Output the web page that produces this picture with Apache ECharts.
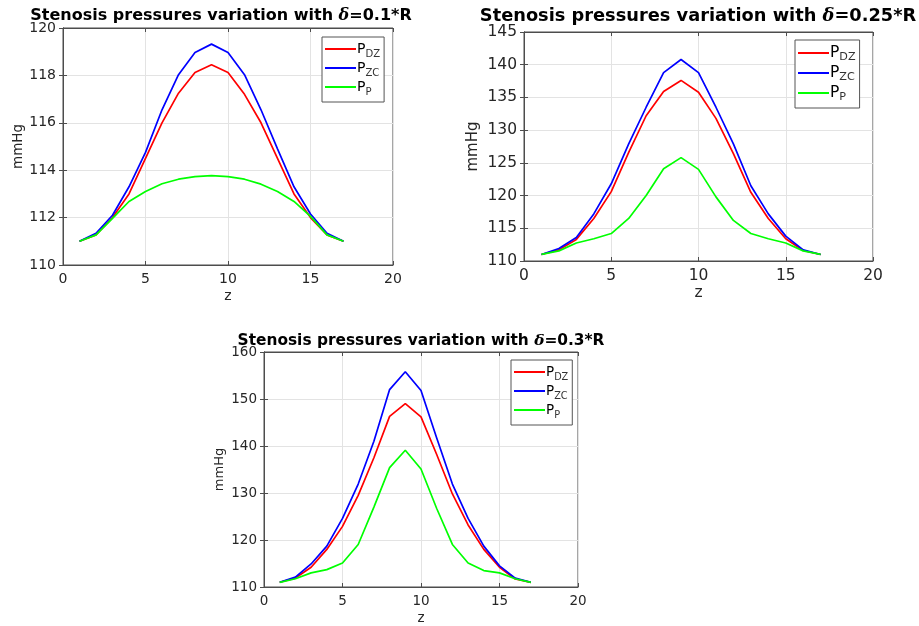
<!DOCTYPE html>
<html>
<head>
<meta charset="utf-8">
<script src="https://cdn.jsdelivr.net/npm/echarts@6/dist/echarts.min.js"></script>
<style>
  html, body { margin: 0; padding: 0; background: #fff; }
  #chart { width: 919px; height: 626px; }
</style>
</head>
<body>
<div id="chart"></div>
<script>
// axial positions z
const zVals = [1, 2, 3, 4, 5, 6, 7, 8, 9, 10, 11, 12, 13, 14, 15, 16, 17]

// delta = 0.1*R
const pdz01 = [111.0, 111.27, 112.0, 113.0, 114.5, 116.0, 117.25, 118.12, 118.45, 118.12, 117.2, 116.0, 114.5, 113.0, 112.0, 111.27, 111.0]
const pzc01 = [111.0, 111.34, 112.1, 113.3, 114.75, 116.55, 118.03, 118.97, 119.32, 118.97, 118.03, 116.55, 114.9, 113.3, 112.15, 111.34, 111.0]
const pp01 = [111.0, 111.27, 111.97, 112.68, 113.1, 113.43, 113.62, 113.73, 113.77, 113.73, 113.62, 113.41, 113.1, 112.68, 112.05, 111.27, 111.0]

// delta = 0.25*R
const pdz025 = [111.0, 111.7, 113.3, 116.5, 120.6, 126.6, 132.2, 135.9, 137.6, 135.8, 131.8, 126.4, 120.5, 116.5, 113.4, 111.6, 111.0]
const pzc025 = [111.0, 111.9, 113.6, 117.2, 121.8, 127.9, 133.5, 138.8, 140.8, 138.8, 133.5, 127.9, 121.5, 117.2, 113.8, 111.7, 111.0]
const pp025 = [111.0, 111.55, 112.75, 113.4, 114.2, 116.5, 120.0, 124.1, 125.8, 124.0, 119.8, 116.2, 114.2, 113.4, 112.75, 111.55, 111.0]

// delta = 0.3*R
const pdz03 = [111.0, 111.9, 114.2, 118.0, 122.9, 129.5, 137.5, 146.3, 149.0, 146.2, 138.2, 129.8, 123.2, 118.0, 114.2, 111.7, 111.0]
const pzc03 = [111.0, 112.1, 114.9, 118.7, 124.6, 131.9, 141.0, 152.0, 155.8, 151.8, 141.7, 131.9, 124.6, 118.7, 114.5, 111.9, 111.0]
const pp03 = [111.0, 111.75, 113.0, 113.7, 115.1, 119.05, 127.0, 135.4, 139.1, 135.1, 126.7, 119.05, 115.1, 113.5, 113.0, 111.75, 111.0]

const seriesNames = ['PDZ', 'PZC', 'PP']
const seriesColors = ['#ff0000', '#0000ff', '#00ff00']
const deltaLabels = ['0.1', '0.25', '0.3']
const yRanges = [[110, 120, 2], [110, 145, 5], [110, 160, 10]]
const panelData = [
  [pdz01, pzc01, pp01],
  [pdz025, pzc025, pp025],
  [pdz03, pzc03, pp03]
]

const FONT = 'DejaVu Sans'

// plot boxes, in pixels
const boxes = [
  { left: 63, top: 28, width: 330, height: 237, fs: 14, tfs: 16, titleX: 221, titleTop: 8, nameGapY: 38, legend: [322, 37] },
  { left: 524, top: 32, width: 349, height: 229, fs: 15.5, tfs: 17.8, titleX: 698, titleTop: 7, nameGapY: 43, legend: [795, 40] },
  { left: 264, top: 352, width: 314, height: 240, fs: 13.5, tfs: 15.4, titleX: 421, titleTop: 333, nameGapY: 38, legend: [511, 360] }
]

const pairs = (ys) => zVals.map((z, i) => [z, ys[i]])

const subLabel = {
  PDZ: '{p|P}{s|DZ}',
  PZC: '{p|P}{s|ZC}',
  PP: '{p|P}{s|P}'
}

const grid = []
const xAxis = []
const yAxis = []
const title = []
const legend = []
const series = []

boxes.forEach((b, k) => {
  grid.push({
    left: b.left,
    top: b.top,
    width: b.width,
    height: b.height,
    show: true,
    borderColor: '#4d4d4d',
    borderWidth: 1,
    backgroundColor: '#fff'
  })

  const axisLabel = { color: '#262626', fontSize: b.fs, fontFamily: FONT }
  const splitLine = { show: true, lineStyle: { color: '#e3e3e3', width: 1 } }
  const axisLine = { show: true, lineStyle: { color: '#4d4d4d' } }
  const axisTick = { show: true, inside: true, length: 4, lineStyle: { color: '#4d4d4d' } }

  xAxis.push({
    type: 'value',
    gridIndex: k,
    min: 0,
    max: 20,
    interval: 5,
    position: 'bottom',
    name: 'z',
    nameLocation: 'middle',
    nameGap: 24,
    nameTextStyle: { color: '#262626', fontSize: b.fs, fontFamily: FONT },
    axisLabel: Object.assign({ margin: 7 }, axisLabel),
    axisLine,
    axisTick,
    splitLine
  })
  xAxis.push({
    type: 'value',
    gridIndex: k,
    min: 0,
    max: 20,
    interval: 5,
    position: 'top',
    axisLabel: { show: false },
    axisLine,
    axisTick,
    splitLine: { show: false }
  })

  const [ymin, ymax, yint] = yRanges[k]
  yAxis.push({
    type: 'value',
    gridIndex: k,
    min: ymin,
    max: ymax,
    interval: yint,
    position: 'left',
    name: 'mmHg',
    nameLocation: 'middle',
    nameGap: b.nameGapY,
    nameTextStyle: { color: '#262626', fontSize: b.fs - 0.5, fontFamily: FONT },
    axisLabel: Object.assign({ margin: 7 }, axisLabel),
    axisLine,
    axisTick,
    splitLine
  })
  yAxis.push({
    type: 'value',
    gridIndex: k,
    min: ymin,
    max: ymax,
    interval: yint,
    position: 'right',
    axisLabel: { show: false },
    axisLine,
    axisTick,
    splitLine: { show: false }
  })

  title.push({
    text: '{b|Stenosis pressures variation with }{d|δ}{b|=' + deltaLabels[k] + '*R}',
    left: b.titleX,
    textAlign: 'center',
    top: b.titleTop,
    padding: 0,
    textStyle: {
      rich: {
        b: { fontFamily: FONT, fontWeight: 'bold', fontSize: b.tfs, color: '#000' },
        d: { fontFamily: 'DejaVu Serif', fontStyle: 'italic', fontSize: b.tfs, color: '#000' }
      }
    }
  })

  legend.push({
    orient: 'vertical',
    left: b.legend[0],
    top: b.legend[1],
    data: seriesNames,
    icon: 'rect',
    itemWidth: 31,
    itemHeight: 2,
    itemGap: 2,
    padding: [5, 4, 5, 3],
    borderColor: '#555',
    borderWidth: 1,
    backgroundColor: '#fff',
    selectedMode: false,
    formatter: (name) => subLabel[name],
    textStyle: {
      padding: [0, 0, 0, -4],
      rich: {
        p: { fontFamily: FONT, fontSize: b.fs, color: '#000', verticalAlign: 'middle', lineHeight: 20 },
        s: { fontFamily: FONT, fontSize: b.fs * 0.72, color: '#333', verticalAlign: 'bottom', lineHeight: 11 }
      }
    }
  })

  panelData[k].forEach((ys, j) => {
    series.push({
      name: seriesNames[j],
      type: 'line',
      xAxisIndex: k * 2,
      yAxisIndex: k * 2,
      data: pairs(ys),
      showSymbol: false,
      symbol: 'none',
      animation: false,
      lineStyle: { color: seriesColors[j], width: 1.7 },
      itemStyle: { color: seriesColors[j] }
    })
  })
})

const chart = echarts.init(document.getElementById('chart'), null, { renderer: 'canvas' })
chart.setOption({
  backgroundColor: '#fff',
  animation: false,
  title,
  legend,
  grid,
  xAxis,
  yAxis,
  series
})
</script>
</body>
</html>
